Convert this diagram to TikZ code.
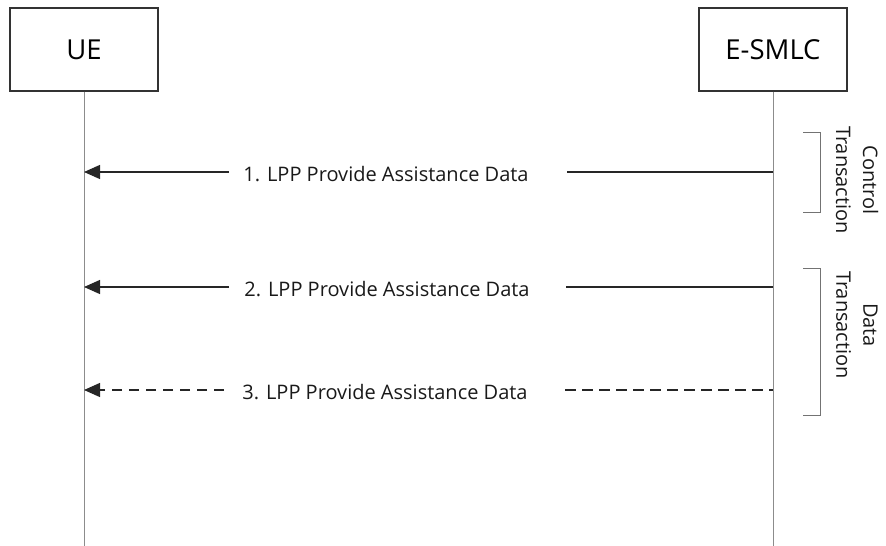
\documentclass[tikz,border=0pt]{standalone}
\usepackage{fontspec}
\setmainfont{Open Sans}
\usetikzlibrary{arrows.meta}
\begin{document}
\begin{tikzpicture}[x=1pt,y=-1pt,
  entity/.style={draw=black!80,line width=1.3pt,fill=white,minimum width=148pt,minimum height=83pt,inner sep=0pt,font=\fontsize{27.5}{30}\selectfont},
  lifeline/.style={draw=black!45,line width=1pt},
  msg/.style={draw=black!85,line width=1.2pt},
  msgarrow/.style={msg,-{Triangle[length=16pt,width=14pt]}},
  msgdash/.style={dash pattern=on 10.5pt off 6.5pt},
  msglabel/.style={font=\fontsize{20}{24}\selectfont,inner sep=0pt,text=black!90},
  brace/.style={draw=black!55,line width=1pt},
  bracelabel/.style={rotate=-90,align=center,font=\fontsize{20}{27}\selectfont,text=black!90}
]
\useasboundingbox (0,0) rectangle (886,546);
\node[entity] (ue) at (84,49.5) {UE};
\node[entity] (esmlc) at (773,49.5) {E-SMLC};
\coordinate (ueend) at (84,546);
\coordinate (eend) at (773,546);
\draw[lifeline] (ue.south) -- (ueend);
\draw[lifeline] (esmlc.south) -- (eend);
% message 1
\coordinate (u1) at (84,172);
\coordinate (e1) at (773,172);
\coordinate (l1) at (229,172);
\coordinate (r1) at (567,172);
\node[msglabel] (m1) at (386,174) {1. LPP Provide Assistance Data};
\draw[msg] (e1) -- (r1);
\draw[msgarrow] (l1) -- (u1);
% message 2
\coordinate (u2) at (84,287);
\coordinate (e2) at (773,287);
\coordinate (l2) at (229,287);
\coordinate (r2) at (566,287);
\node[msglabel] (m2) at (387,289) {2. LPP Provide Assistance Data};
\draw[msg] (e2) -- (r2);
\draw[msgarrow] (l2) -- (u2);
% message 3
\coordinate (u3) at (84,390);
\coordinate (e3) at (773,390);
\coordinate (l3) at (224,390);
\coordinate (r3) at (565,390);
\node[msglabel] (m3) at (385,392) {3. LPP Provide Assistance Data};
\draw[msg,msgdash] (r3) -- (e3);
\draw[msgarrow,msgdash] (l3) -- (u3);
% brackets
\coordinate (c1) at (803,132);
\coordinate (c2) at (820,132);
\coordinate (c3) at (820,212);
\coordinate (c4) at (803,212);
\draw[brace] (c1) -- (c2) -- (c3) -- (c4);
\coordinate (d1) at (803,268);
\coordinate (d2) at (820,268);
\coordinate (d3) at (820,415);
\coordinate (d4) at (803,415);
\draw[brace] (d1) -- (d2) -- (d3) -- (d4);
\node[bracelabel] (ct) at (857,180) {Control\\Transaction};
\node[bracelabel] (dt) at (857,325) {Data\\Transaction};
\end{tikzpicture}
\end{document}
